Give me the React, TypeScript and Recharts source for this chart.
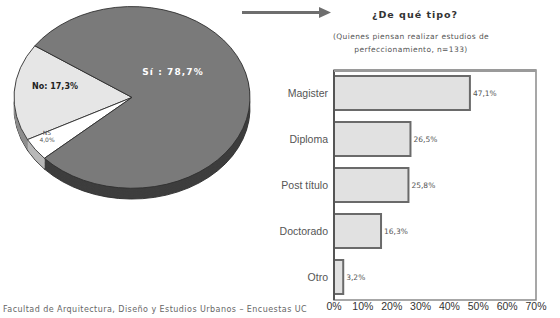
import React from 'react';
import { PieChart, Pie, Cell, BarChart, Bar, XAxis, YAxis, LabelList, ReferenceArea } from 'recharts';

const pieNames = ['No', 'NS', 'Sí'];
const pieValues = [17.3, 4.0, 78.7];
const pieTopColors = ['#e6e6e6', '#ffffff', '#7a7a7a'];
const pieRimColors = ['#8e8e8e', '#b8b8b8', '#3e3e3e'];

const barCategories = ['Magister', 'Diploma', 'Post título', 'Doctorado', 'Otro'];
const barValues = [47.1, 26.5, 25.8, 16.3, 3.2];
const barLabels = ['47,1%', '26,5%', '25,8%', '16,3%', '3,2%'];
const xTicks = [0, 10, 20, 30, 40, 50, 60, 70];

const pieData = pieNames.map((name, i) => ({ name, value: pieValues[i] }));
const barData = barCategories.map((name, i) => ({ name, value: barValues[i], label: barLabels[i] }));

const SCALE = 0.77;
const PCX = 125;
const PCY = 120;
const R = 118;
const RIM = 14;
const rimOffsets = Array.from({ length: RIM }, (_, i) => RIM - i);

const sans = '"DejaVu Sans", Verdana, sans-serif';
const arial = '"Liberation Sans", Arial, sans-serif';

export default function App() {
  return (
    <div style={{ position: 'absolute', left: 0, top: 0, width: 560, height: 318, background: '#fff', overflow: 'hidden' }}>
      {/* Pie (tilted) */}
      <div style={{ position: 'absolute', left: 6.5, top: 4.6, width: 250, height: 260, transform: `scaleY(${SCALE})`, transformOrigin: 'top left' }}>
        <PieChart width={250} height={260} margin={{ top: 0, right: 0, bottom: 0, left: 0 }}>
          {rimOffsets.map((o) => (
            <Pie
              key={'rim' + o}
              data={pieData}
              dataKey="value"
              cx={PCX}
              cy={PCY + o}
              outerRadius={R}
              startAngle={145.4}
              endAngle={505.4}
              isAnimationActive={false}
              label={false}
              labelLine={false}
              stroke={o === RIM ? '#2a2a2a' : 'none'}
              strokeWidth={o === RIM ? 1 : 0}
            >
              {pieData.map((d, i) => (
                <Cell key={d.name} fill={pieRimColors[i]} stroke={o === RIM ? '#2a2a2a' : pieRimColors[i]} />
              ))}
            </Pie>
          ))}
          <Pie
            data={pieData}
            dataKey="value"
            cx={PCX}
            cy={PCY}
            outerRadius={R}
            startAngle={145.4}
            endAngle={505.4}
            isAnimationActive={false}
            label={false}
            labelLine={false}
            stroke="#2e2e2e"
            strokeWidth={1}
          >
            {pieData.map((d, i) => (
              <Cell key={d.name} fill={pieTopColors[i]} stroke="#2e2e2e" />
            ))}
          </Pie>
        </PieChart>
      </div>

      {/* Pie labels */}
      <div style={{ position: 'absolute', left: 173, top: 72, transform: 'translate(-50%,-50%)', fontFamily: sans, fontSize: 9, fontWeight: 'bold', color: '#fff', whiteSpace: 'nowrap', letterSpacing: 1.1 }}>
        {pieNames[2]} : 78,7%
      </div>
      <div style={{ position: 'absolute', left: 55, top: 86, transform: 'translate(-50%,-50%)', fontFamily: sans, fontSize: 8, fontWeight: 'bold', color: '#222', whiteSpace: 'nowrap' }}>
        {pieNames[0]}: 17,3%
      </div>
      <div style={{ position: 'absolute', left: 47, top: 136, transform: 'translate(-50%,-50%)', fontFamily: sans, fontSize: 6, color: '#555', whiteSpace: 'nowrap', lineHeight: '7px', textAlign: 'center' }}>
        {pieNames[1]}<br />4,0%
      </div>

      {/* Arrow */}
      <svg style={{ position: 'absolute', left: 0, top: 0 }} width={560} height={30}>
        <line x1={242} y1={12.5} x2={322} y2={12.5} stroke="#6e6e6e" strokeWidth={3} />
        <polygon points="319,7 331,12.5 319,18" fill="#6e6e6e" />
      </svg>

      {/* Titles */}
      <div style={{ position: 'absolute', left: 415, top: 14, transform: 'translate(-50%,-50%)', fontFamily: sans, fontSize: 9.5, fontWeight: 'bold', color: '#333', whiteSpace: 'nowrap', letterSpacing: 1 }}>
        ¿De qué tipo?
      </div>
      <div style={{ position: 'absolute', left: 411, top: 43, transform: 'translate(-50%,-50%)', fontFamily: sans, fontSize: 7.5, color: '#555', whiteSpace: 'nowrap', textAlign: 'center', lineHeight: '13px', letterSpacing: 0.4 }}>
        (Quienes piensan realizar estudios de<br />perfeccionamiento, n=133)
      </div>

      {/* Footer */}
      <div style={{ position: 'absolute', left: 3, top: 309, transform: 'translateY(-50%)', fontFamily: sans, fontSize: 8, color: '#666', whiteSpace: 'nowrap', letterSpacing: 0.45 }}>
        Facultad de Arquitectura, Diseño y Estudios Urbanos – Encuestas UC
      </div>

      {/* Bar chart */}
      <div style={{ position: 'absolute', left: 250, top: 60 }}>
        <BarChart
          width={300}
          height={258}
          data={barData}
          layout="vertical"
          margin={{ top: 10, right: 14, bottom: 0, left: 0 }}
          barCategoryGap="13%"
        >
          <ReferenceArea x1={0} x2={70} fill="#fff" stroke="#8a8a8a" strokeWidth={1.5} ifOverflow="visible" />
          <XAxis
            type="number"
            domain={[0, 70]}
            ticks={xTicks}
            tickFormatter={(v: number) => v + '%'}
            height={18}
            tickSize={0}
            tickMargin={3}
            axisLine={false}
            tick={{ fontSize: 10.5, fill: '#333', fontFamily: arial }}
            interval={0}
          />
          <YAxis
            type="category"
            dataKey="name"
            width={84}
            tickSize={0}
            tickMargin={6}
            axisLine={{ stroke: '#555', strokeWidth: 2 }}
            tick={{ fontSize: 10.5, fill: '#555', fontFamily: arial }}
          />
          <Bar dataKey="value" fill="#e1e1e1" stroke="#6a6a6a" strokeWidth={2} isAnimationActive={false}>
            <LabelList dataKey="label" position="right" offset={3} style={{ fontSize: 7.5, fill: '#555', fontFamily: sans }} />
          </Bar>
        </BarChart>
      </div>
      <div style={{ position: 'absolute', left: 334, top: 69, width: 202, height: 2.5, background: '#9a9a9a' }} />
    </div>
  );
}
